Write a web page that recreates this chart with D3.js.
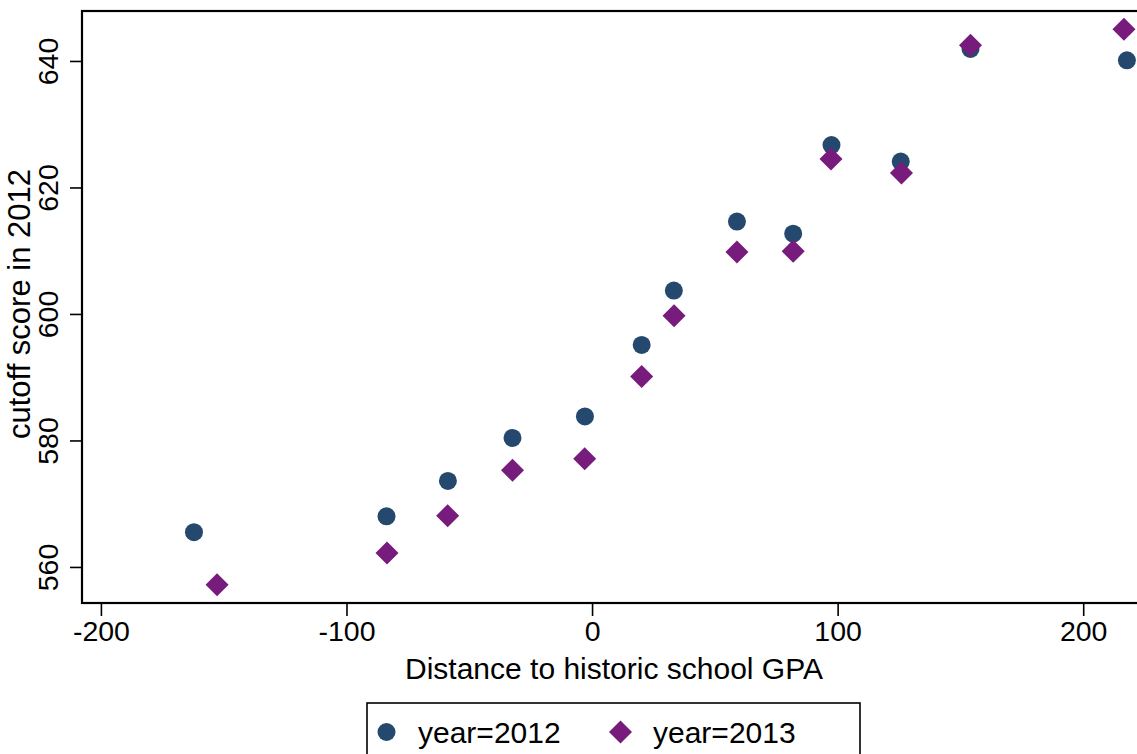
<!DOCTYPE html>
<html>
<head>
<meta charset="utf-8">
<script src="https://cdn.jsdelivr.net/npm/d3@7"></script>
<style>
  body { margin: 0; background: #fff; overflow: hidden; }
  text { font-family: "Liberation Sans", Arial, Helvetica, sans-serif; fill: #000; }
</style>
</head>
<body>
<div id="chart-area"></div>
<script>
// binned scatter: distance to historic school GPA vs cutoff score
var x2012 = [-162.1, -83.7, -58.7, -32.4, -2.9, 20.2, 33.3, 59.0, 81.9, 97.5, 125.7, 154.1, 217.8];
var y2012 = [565.5, 568.0, 573.6, 580.4, 583.8, 595.1, 603.7, 614.6, 612.7, 626.7, 624.1, 641.9, 640.1];

var x2013 = [-152.7, -83.5, -58.8, -32.4, -3.0, 20.2, 33.4, 59.0, 81.9, 97.3, 126.0, 154.1, 216.6];
var y2013 = [557.2, 562.2, 568.1, 575.3, 577.1, 590.1, 599.7, 609.8, 609.9, 624.5, 622.3, 642.5, 645.0];

var xTicks = [-200, -100, 0, 100, 200];
var yTicks = [560, 580, 600, 620, 640];
var seriesNames = ["year=2012", "year=2013"];

const MARGIN = { LEFT: 82, TOP: 11 }
const WIDTH = 1068
const HEIGHT = 592
const NAVY = "#25496e"
const PURPLE = "#771b7c"

const svg = d3.select("#chart-area").append("svg")
            .attr("width", 1137)
            .attr("height", 754)

const g = svg.append("g")
       .attr("transform", `translate(${MARGIN.LEFT}, ${MARGIN.TOP})`)

var xScale = d3.scaleLinear()
               .domain([-207.7, 227.2])
               .range([0, WIDTH]);

var yScale = d3.scaleLinear()
               .domain([554.3, 647.9])
               .range([HEIGHT, 0]);

// plot frame (right side runs off the picture)
g.append("rect")
  .attr("x", 0).attr("y", 0)
  .attr("width", WIDTH).attr("height", HEIGHT)
  .attr("fill", "none")
  .attr("stroke", "#000")
  .attr("stroke-width", 2.2);

var xAxis = g.append("g")
  .attr("transform", "translate(0," + HEIGHT + ")")
  .call(d3.axisBottom(xScale).tickValues(xTicks).tickSize(13).tickSizeOuter(0).tickPadding(5));
xAxis.select(".domain").remove();
xAxis.selectAll("line").attr("stroke-width", 1.6);
xAxis.selectAll("text")
  .style("font-size", "28.5px")
  .attr("fill", "#000")
  .text(d => d < 0 ? "-" + Math.abs(d) : d);

var yAxis = g.append("g")
  .call(d3.axisLeft(yScale).tickValues(yTicks).tickSize(12).tickSizeOuter(0));
yAxis.select(".domain").remove();
yAxis.selectAll("line").attr("stroke-width", 1.6);
yAxis.selectAll("text")
  .style("font-size", "28.5px")
  .attr("fill", "#000")
  .attr("x", null).attr("dy", null)
  .attr("text-anchor", "middle")
  .attr("transform", "translate(-24.5,0) rotate(-90)");

// axis titles
svg.append("text")
  .attr("x", 614).attr("y", 679)
  .attr("text-anchor", "middle")
  .style("font-size", "30px")
  .text("Distance to historic school GPA");

svg.append("text")
  .attr("transform", "translate(30,304) rotate(-90)")
  .attr("text-anchor", "middle")
  .style("font-size", "31px")
  .text("cutoff score in 2012");

var diamond = d3.symbol().type(d3.symbolSquare).size(265);

g.selectAll(".pt2012")
  .data(x2012)
  .enter().append("circle")
  .attr("cx", d => xScale(d))
  .attr("cy", (d, i) => yScale(y2012[i]))
  .attr("r", 9)
  .attr("fill", NAVY);

g.selectAll(".pt2013")
  .data(x2013)
  .enter().append("path")
  .attr("d", diamond)
  .attr("transform", (d, i) => `translate(${xScale(d)},${yScale(y2013[i])}) rotate(45)`)
  .attr("fill", PURPLE);

// legend
const legend = svg.append("g").attr("transform", "translate(367,703)")
legend.append("rect")
  .attr("width", 493).attr("height", 80)
  .attr("fill", "#fff")
  .attr("stroke", "#000")
  .attr("stroke-width", 1.6);
legend.append("circle")
  .attr("cx", 19.5).attr("cy", 29).attr("r", 9)
  .attr("fill", NAVY);
legend.append("path")
  .attr("d", diamond)
  .attr("transform", "translate(253.5,29) rotate(45)")
  .attr("fill", PURPLE);
legend.selectAll(".lab")
  .data(seriesNames)
  .enter().append("text")
  .attr("x", (d, i) => i == 0 ? 51 : 286)
  .attr("y", 40)
  .style("font-size", "30px")
  .text(d => d);
</script>
</body>
</html>
